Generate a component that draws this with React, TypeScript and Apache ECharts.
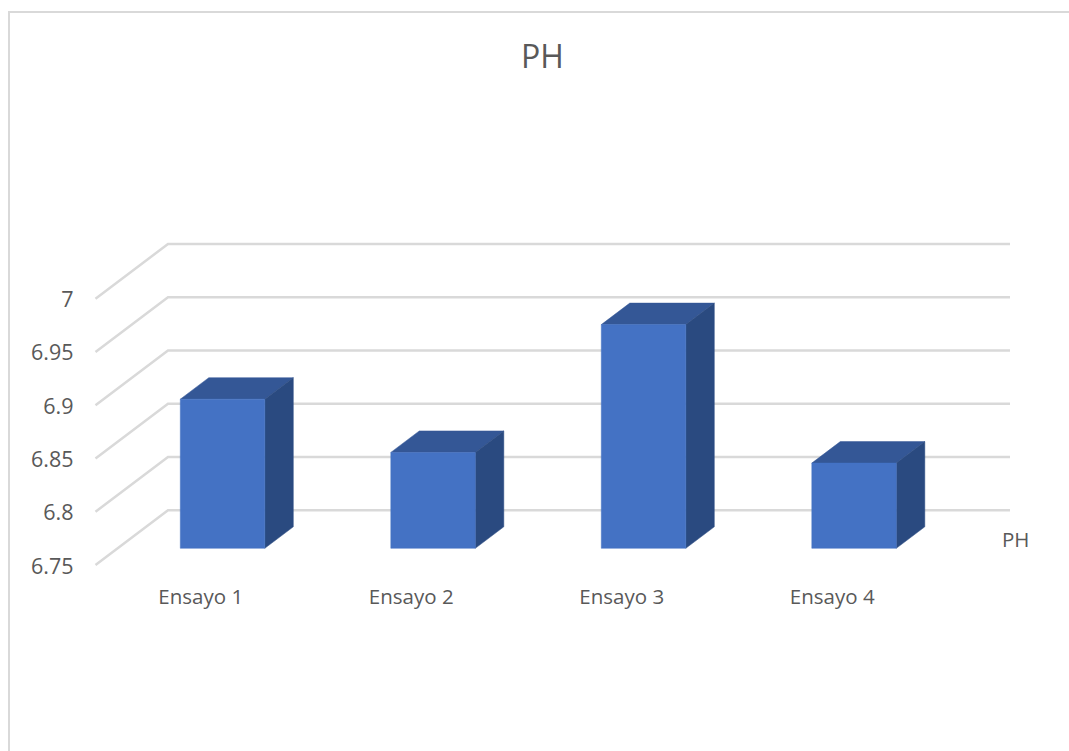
import React, { useEffect, useRef } from "react";
import * as echarts from "echarts";

const titleText = "PH";
const seriesName = "PH";
const categories = ["Ensayo 1", "Ensayo 2", "Ensayo 3", "Ensayo 4"];
const phValues = [6.89, 6.84, 6.96, 6.83];
const wallTicks = [6.75, 6.8, 6.85, 6.9, 6.95, 7];

const FONT = "'Open Sans', sans-serif";
const TEXT = "#595959";
const GRID_LINE = "#D9D9D9";
const FRONT = "#4472C4";
const TOP = "#345796";
const SIDE = "#2A4A80";

// Oblique projection of the pseudo-3D box: the wall sits behind the axis plane,
// and each bar stands part way along that depth.
const WALL_DX = 72.5;
const WALL_DY = -54.7;
const BAR_DX = 21.8;
const BAR_DY = -16.7;
const BAR_WIDTH = 84.5;
const DEPTH_DX = 28.5;
const DEPTH_DY = -21.5;

const renderWall = (_: any, api: any) => {
  const tick = api.value(0);
  const band = api.size([1, 0])[0];
  const [firstX, y] = api.coord([0, tick]);
  const [lastX] = api.coord([categories.length - 1, tick]);
  const left = firstX - band / 2;
  const right = lastX + band / 2;
  return {
    type: "polyline",
    shape: {
      points: [
        [left, y],
        [left + WALL_DX, y + WALL_DY],
        [right + WALL_DX, y + WALL_DY],
      ],
    },
    style: { stroke: GRID_LINE, lineWidth: 2.5, fill: "none" },
  };
};

const renderBar = (_: any, api: any) => {
  const index = api.value(0);
  const [cx, top] = api.coord([index, api.value(1)]);
  const [, base] = api.coord([index, wallTicks[0]]);
  const x0 = cx + BAR_DX - BAR_WIDTH / 2;
  const x1 = x0 + BAR_WIDTH;
  const y0 = top + BAR_DY;
  const y1 = base + BAR_DY;
  const face = (points: number[][], color: string) => ({
    type: "polygon",
    shape: { points },
    style: { fill: color, stroke: color, lineWidth: 0.5 },
  });
  return {
    type: "group",
    children: [
      face(
        [
          [x0, y0],
          [x0 + DEPTH_DX, y0 + DEPTH_DY],
          [x1 + DEPTH_DX, y0 + DEPTH_DY],
          [x1, y0],
        ],
        TOP
      ),
      face(
        [
          [x1, y0],
          [x1 + DEPTH_DX, y0 + DEPTH_DY],
          [x1 + DEPTH_DX, y1 + DEPTH_DY],
          [x1, y1],
        ],
        SIDE
      ),
      face(
        [
          [x0, y0],
          [x1, y0],
          [x1, y1],
          [x0, y1],
        ],
        FRONT
      ),
    ],
  };
};

export default function App() {
  const ref = useRef<HTMLDivElement>(null);

  useEffect(() => {
    document.body.style.margin = "0";
    const chart = echarts.init(ref.current!, undefined, { renderer: "svg" });
    chart.setOption({
      animation: false,
      backgroundColor: "#FFFFFF",
      title: {
        text: titleText,
        left: 516,
        top: 34,
        textStyle: { color: TEXT, fontFamily: FONT, fontSize: 32, fontWeight: "normal" },
      },
      grid: { left: 95.5, top: 298.7, width: 842, height: 266.3, containLabel: false },
      xAxis: {
        type: "category",
        data: categories,
        axisLine: { show: false },
        axisTick: { show: false },
        splitLine: { show: false },
        axisLabel: { color: TEXT, fontFamily: FONT, fontSize: 20.5, margin: 20, interval: 0 },
      },
      yAxis: {
        type: "value",
        min: 6.75,
        max: 7,
        interval: 0.05,
        axisLine: { show: false },
        axisTick: { show: false },
        splitLine: { show: false },
        axisLabel: { color: TEXT, fontFamily: FONT, fontSize: 21.5, margin: 22 },
      },
      graphic: [
        {
          type: "polyline",
          silent: true,
          shape: {
            points: [
              [9, 751],
              [9, 12],
              [1069, 12],
            ],
          },
          style: { stroke: GRID_LINE, lineWidth: 2, fill: "none" },
        },
        {
          type: "text",
          x: 1002,
          y: 528,
          style: { text: seriesName, fill: TEXT, font: `20.5px ${FONT}` },
        },
      ],
      series: [
        {
          type: "custom",
          name: "wall",
          clip: false,
          silent: true,
          renderItem: renderWall,
          data: wallTicks.map((t) => [t]),
          encode: { y: 0 },
          z: 1,
        },
        {
          type: "custom",
          name: seriesName,
          clip: false,
          renderItem: renderBar,
          data: phValues.map((v, i) => [i, v]),
          encode: { x: 0, y: 1 },
          z: 2,
        },
      ],
    });
    return () => chart.dispose();
  }, []);

  return <div ref={ref} style={{ width: 1069, height: 751 }} />;
}
